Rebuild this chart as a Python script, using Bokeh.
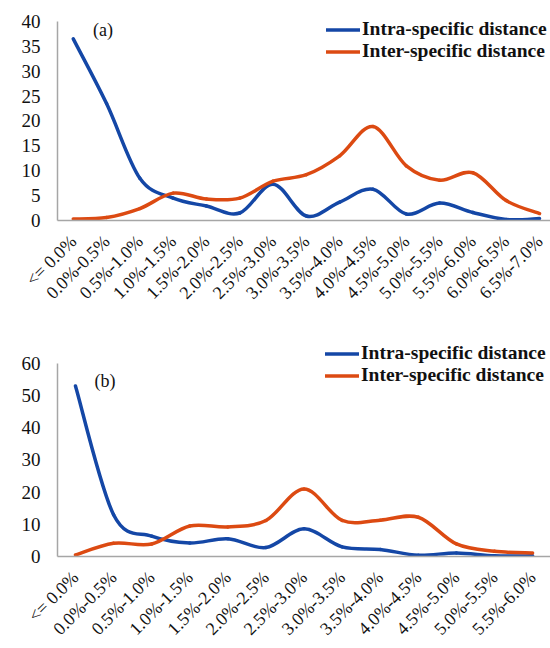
import math
from bokeh.plotting import figure
from bokeh.models import Range1d, FixedTicker, Legend, LegendItem, Label
from bokeh.layouts import column
from bokeh.embed import file_html
from bokeh.resources import INLINE

# ---- data: panel (a)
cats_a = ["<= 0.0%", "0.0%-0.5%", "0.5%-1.0%", "1.0%-1.5%", "1.5%-2.0%",
          "2.0%-2.5%", "2.5%-3.0%", "3.0%-3.5%", "3.5%-4.0%", "4.0%-4.5%",
          "4.5%-5.0%", "5.0%-5.5%", "5.5%-6.0%", "6.0%-6.5%", "6.5%-7.0%"]
intra_a = [36.5, 23.5, 8.5, 4.5, 2.9, 1.5, 7.3, 0.9, 3.7, 6.3, 1.3, 3.5, 1.6, 0.2, 0.4]
inter_a = [0.3, 0.6, 2.4, 5.5, 4.3, 4.5, 7.9, 9.2, 13.0, 18.9, 11.0, 8.1, 9.6, 4.0, 1.4]
yticks_a = [0, 5, 10, 15, 20, 25, 30, 35, 40]

# ---- data: panel (b)
cats_b = ["<= 0.0%", "0.0%-0.5%", "0.5%-1.0%", "1.0%-1.5%", "1.5%-2.0%",
          "2.0%-2.5%", "2.5%-3.0%", "3.0%-3.5%", "3.5%-4.0%", "4.0%-4.5%",
          "4.5%-5.0%", "5.0%-5.5%", "5.5%-6.0%"]
intra_b = [53.0, 13.0, 6.3, 4.2, 5.5, 2.8, 8.6, 3.0, 2.2, 0.4, 1.1, 0.2, 0.2]
inter_b = [0.5, 4.1, 3.9, 9.5, 9.2, 11.2, 21.0, 11.2, 11.3, 12.2, 3.9, 1.6, 1.1]
yticks_b = [0, 10, 20, 30, 40, 50, 60]

series_names = ["Intra-specific distance", "Inter-specific distance"]

BLUE = "#1447A6"
ORANGE = "#DC4A12"
AXIS = "#A6A6A6"
FONT = "Liberation Serif"


def smooth_segments(ys):
    """Bezier control points (Catmull-Rom style, like Excel's smoothed line)."""
    n = len(ys)
    xs = list(range(n))
    seg = dict(x0=[], y0=[], x1=[], y1=[], cx0=[], cy0=[], cx1=[], cy1=[])
    for i in range(n - 1):
        xm = xs[max(i - 1, 0)]; ym = ys[max(i - 1, 0)]
        xp = xs[min(i + 2, n - 1)]; yp = ys[min(i + 2, n - 1)]
        seg["x0"].append(xs[i]); seg["y0"].append(ys[i])
        seg["x1"].append(xs[i + 1]); seg["y1"].append(ys[i + 1])
        seg["cx0"].append(xs[i] + (xs[i + 1] - xm) / 6.0)
        seg["cy0"].append(ys[i] + (ys[i + 1] - ym) / 6.0)
        seg["cx1"].append(xs[i + 1] - (xp - xs[i]) / 6.0)
        seg["cy1"].append(ys[i + 1] - (yp - ys[i]) / 6.0)
    return seg


def panel(cats, intra, inter, yticks, ymax, yview, height, left, top, bottom,
          x_start, x_end_pad, tag, tag_xy, leg_loc):
    n = len(cats)
    p = figure(width=550, height=height, output_backend="svg",
               toolbar_location=None, tools="",
               x_range=Range1d(x_start, n - 1 + x_end_pad),
               y_range=Range1d(0, yview),
               min_border_left=left, min_border_right=0,
               min_border_top=top, min_border_bottom=bottom)
    p.outline_line_color = None
    p.xgrid.visible = False
    p.ygrid.visible = False
    p.background_fill_color = "white"
    p.border_fill_color = "white"

    rb = p.bezier(line_color=BLUE, line_width=3.5, line_cap="round",
                  **smooth_segments(intra))
    ro = p.bezier(line_color=ORANGE, line_width=3.5, line_cap="round",
                  **smooth_segments(inter))

    xa = p.xaxis[0]
    xa.ticker = FixedTicker(ticks=list(range(n)))
    xa.major_label_overrides = {i: c for i, c in enumerate(cats)}
    xa.major_label_orientation = math.pi / 4
    xa.major_label_text_font = FONT
    xa.major_label_text_font_size = "18px"
    xa.major_label_text_color = "#111111"
    xa.major_label_standoff = 18
    xa.major_tick_out = 0
    xa.major_tick_in = 0
    xa.minor_tick_out = 0
    xa.minor_tick_in = 0
    xa.axis_line_color = AXIS
    xa.axis_line_width = 1.5
    xa.major_tick_line_color = None
    xa.minor_tick_line_color = None

    ya = p.yaxis[0]
    ya.ticker = FixedTicker(ticks=yticks)
    ya.bounds = (0, ymax)
    ya.major_label_text_font = FONT
    ya.major_label_text_font_size = "19px"
    ya.major_label_text_color = "#111111"
    ya.major_label_standoff = 17
    ya.major_tick_out = 0
    ya.major_tick_in = 0
    ya.minor_tick_out = 0
    ya.minor_tick_in = 0
    ya.axis_line_color = AXIS
    ya.axis_line_width = 1.5
    ya.major_tick_line_color = None
    ya.minor_tick_line_color = None

    leg = Legend(items=[LegendItem(label=series_names[0], renderers=[rb]),
                        LegendItem(label=series_names[1], renderers=[ro])],
                 location=leg_loc, orientation="vertical",
                 padding=0, margin=0, spacing=0,
                 glyph_width=34, glyph_height=21, label_height=21,
                 label_standoff=2, label_text_font=FONT,
                 label_text_font_style="bold", label_text_font_size="19.5px",
                 label_text_color="#111111",
                 border_line_color=None, background_fill_alpha=0)
    p.add_layout(leg)

    p.add_layout(Label(x=tag_xy[0], y=tag_xy[1], text=tag,
                       text_font=FONT, text_font_size="18px",
                       text_color="#111111", text_baseline="middle",
                       text_align="left"))
    return p


pa = panel(cats_a, intra_a, inter_a, yticks_a, 40, 40.8, 330, 50, 17, 110,
           -0.473, 0.33, "(a)", (0.59, 38.2), (269, 158))
pb = panel(cats_b, intra_b, inter_b, yticks_b, 60, 66.2, 318, 57, 13, 92,
           -0.472, 0.47, "(b)", (0.5, 54.7), (268, 170))

layout = column(pa, pb, spacing=0)
open("out.html", "w").write(file_html(layout, INLINE))
